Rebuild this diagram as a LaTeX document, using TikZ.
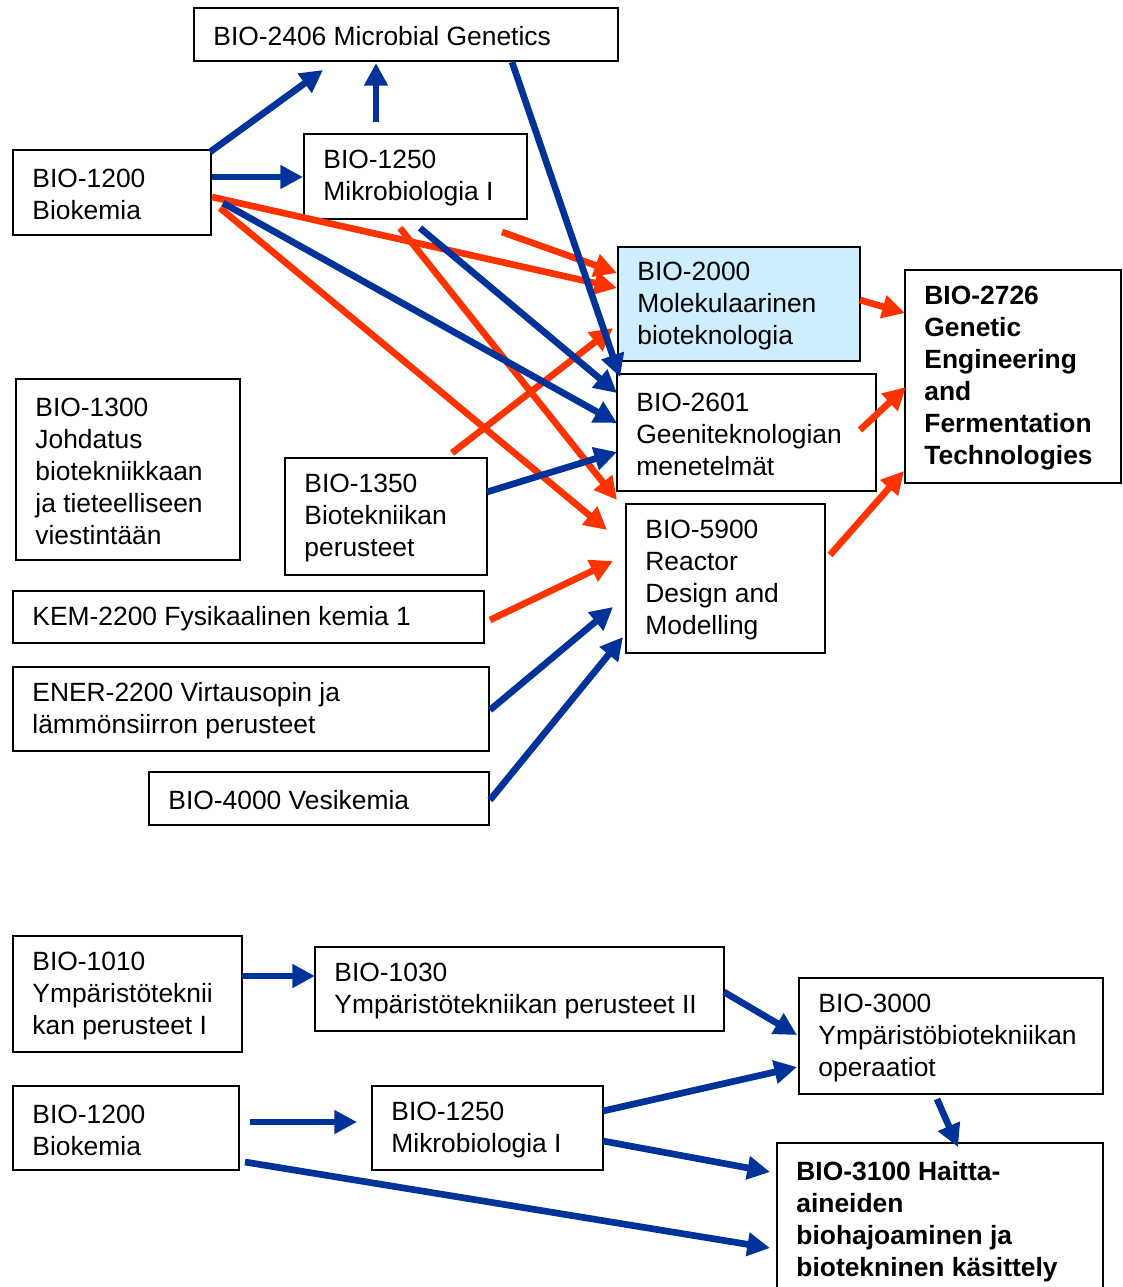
\documentclass[tikz,border=0pt]{standalone}
\usepackage{fontspec}
\setmainfont{Liberation Sans}
\usetikzlibrary{arrows.meta,fit}
\definecolor{myblue}{HTML}{003399}
\definecolor{myred}{HTML}{FF3300}
\definecolor{mylight}{HTML}{CCEEFF}
\tikzset{
  box/.style={draw, line width=1.3pt, inner sep=0pt},
  lbl/.style={anchor=west, align=left, inner sep=0pt, font=\fontsize{19.8}{24}\selectfont, xshift=15pt, yshift=-1.5pt},
  blbl/.style={lbl, font=\fontsize{19.8}{24}\selectfont\bfseries},
  barrow/.style={draw=myblue, line width=5pt, -{Triangle[length=17pt,width=17pt]}, myblue},
  rarrow/.style={draw=myred, line width=5pt, -{Triangle[length=17pt,width=17pt]}, myred}
}
\begin{document}
\begin{tikzpicture}[x=0.75pt,y=-0.75pt]
\useasboundingbox (0,0) rectangle (1123,1287);
% boxes
\node[box, fit={(194,8) (618,61)}] (b2406) {};
\node[lbl] (t2406) at (b2406.west) {BIO-2406 Microbial Genetics};
\node[box, fit={(13,150) (211,235)}] (b1200) {};
\node[lbl] (t1200) at (b1200.west) {BIO-1200\\Biokemia};
\node[box, fit={(304,134) (527,219)}] (b1250) {};
\node[lbl] (t1250) at (b1250.west) {BIO-1250\\Mikrobiologia I};
\node[box, fill=mylight, fit={(618,247) (860,361)}] (b2000) {};
\node[lbl] (t2000) at (b2000.west) {BIO-2000\\Molekulaarinen\\bioteknologia};
\node[box, fit={(905,270) (1121,483)}] (b2726) {};
\node[blbl] (t2726) at (b2726.west) {BIO-2726\\Genetic\\Engineering\\and\\Fermentation\\Technologies};
\node[box, fit={(16,379) (240,560)}] (b1300) {};
\node[lbl] (t1300) at (b1300.west) {BIO-1300\\Johdatus\\biotekniikkaan\\ja tieteelliseen\\viestintään};
\node[box, fit={(617,374) (876,491)}] (b2601) {};
\node[lbl] (t2601) at (b2601.west) {BIO-2601\\Geeniteknologian\\menetelmät};
\node[box, fit={(285,458) (487,575)}] (b1350) {};
\node[lbl] (t1350) at (b1350.west) {BIO-1350\\Biotekniikan\\perusteet};
\node[box, fit={(626,504) (825,653)}] (b5900) {};
\node[lbl] (t5900) at (b5900.west) {BIO-5900\\Reactor\\Design and\\Modelling};
\node[box, fit={(13,591) (484,643)}] (kem) {};
\node[lbl] (tkem) at (kem.west) {KEM-2200 Fysikaalinen kemia 1};
\node[box, fit={(13,667) (489,751)}] (ener) {};
\node[lbl] (tener) at (ener.west) {ENER-2200 Virtausopin ja\\lämmönsiirron perusteet};
\node[box, fit={(149,772) (489,825)}] (b4000) {};
\node[lbl] (t4000) at (b4000.west) {BIO-4000 Vesikemia};
\node[box, fit={(13,936) (242,1052)}] (b1010) {};
\node[lbl] (t1010) at (b1010.west) {BIO-1010\\Ympäristöteknii\\kan perusteet I};
\node[box, fit={(315,947) (724,1031)}] (b1030) {};
\node[lbl] (t1030) at (b1030.west) {BIO-1030\\Ympäristötekniikan perusteet II};
\node[box, fit={(799,978) (1103,1094)}] (b3000) {};
\node[lbl] (t3000) at (b3000.west) {BIO-3000\\Ympäristöbiotekniikan\\operaatiot};
\node[box, fit={(13,1086) (239,1170)}] (b1200b) {};
\node[lbl] (t1200b) at (b1200b.west) {BIO-1200\\Biokemia};
\node[box, fit={(372,1086) (603,1170)}] (b1250b) {};
\node[lbl] (t1250b) at (b1250b.west) {BIO-1250\\Mikrobiologia I};
\node[box, fit={(777,1143) (1103,1296)}] (b3100) {};
\node[blbl] (t3100) at (b3100.west) {BIO-3100 Haitta-\\aineiden\\biohajoaminen ja\\biotekninen käsittely};
% connector end points
\coordinate (a1s) at (210,152); \coordinate (a1e) at (323,70);
\coordinate (a2s) at (376,122); \coordinate (a2e) at (376,63);
\coordinate (a3s) at (212,177); \coordinate (a3e) at (303,177);
\coordinate (a4s) at (512,62);  \coordinate (a4e) at (620,377);
\coordinate (a5s) at (420,228); \coordinate (a5e) at (617,393);
\coordinate (a6s) at (223,203); \coordinate (a6e) at (617,423);
\coordinate (a7s) at (487,492); \coordinate (a7e) at (617,452);
\coordinate (a8s) at (490,710); \coordinate (a8e) at (613,607);
\coordinate (a9s) at (490,800); \coordinate (a9e) at (623,637);
\coordinate (r1s) at (212,197); \coordinate (r1e) at (617,288);
\coordinate (r2s) at (502,232); \coordinate (r2e) at (617,273);
\coordinate (r3s) at (400,228); \coordinate (r3e) at (617,500);
\coordinate (r4s) at (220,208); \coordinate (r4e) at (607,530);
\coordinate (r5s) at (452,453); \coordinate (r5e) at (613,328);
\coordinate (r6s) at (490,620); \coordinate (r6e) at (613,561);
\coordinate (r7s) at (860,300); \coordinate (r7e) at (905,313);
\coordinate (r8s) at (860,430); \coordinate (r8e) at (906,387);
\coordinate (r9s) at (830,555); \coordinate (r9e) at (904,471);
\coordinate (c1s) at (242,976); \coordinate (c1e) at (315,976);
\coordinate (c2s) at (724,992); \coordinate (c2e) at (797,1035);
\coordinate (c3s) at (603,1111); \coordinate (c3e) at (797,1067);
\coordinate (c4s) at (937,1099); \coordinate (c4e) at (958,1147);
\coordinate (c5s) at (603,1141); \coordinate (c5e) at (770,1172);
\coordinate (c6s) at (250,1122); \coordinate (c6e) at (357,1122);
\coordinate (c7s) at (245,1162); \coordinate (c7e) at (770,1248);
% red connectors
\draw[rarrow] (r1s) -- (r1e);
\draw[rarrow] (r2s) -- (r2e);
\draw[rarrow] (r3s) -- (r3e);
\draw[rarrow] (r4s) -- (r4e);
\draw[rarrow] (r5s) -- (r5e);
\draw[rarrow] (r6s) -- (r6e);
\draw[rarrow] (r7s) -- (r7e);
\draw[rarrow] (r8s) -- (r8e);
\draw[rarrow] (r9s) -- (r9e);
% blue connectors
\draw[barrow] (a1s) -- (a1e);
\draw[barrow] (a2s) -- (a2e);
\draw[barrow] (a3s) -- (a3e);
\draw[barrow] (a4s) -- (a4e);
\draw[barrow] (a5s) -- (a5e);
\draw[barrow] (a6s) -- (a6e);
\draw[barrow] (a7s) -- (a7e);
\draw[barrow] (a8s) -- (a8e);
\draw[barrow] (a9s) -- (a9e);
\draw[barrow] (c1s) -- (c1e);
\draw[barrow] (c2s) -- (c2e);
\draw[barrow] (c3s) -- (c3e);
\draw[barrow] (c4s) -- (c4e);
\draw[barrow] (c5s) -- (c5e);
\draw[barrow] (c6s) -- (c6e);
\draw[barrow] (c7s) -- (c7e);
\end{tikzpicture}
\end{document}
